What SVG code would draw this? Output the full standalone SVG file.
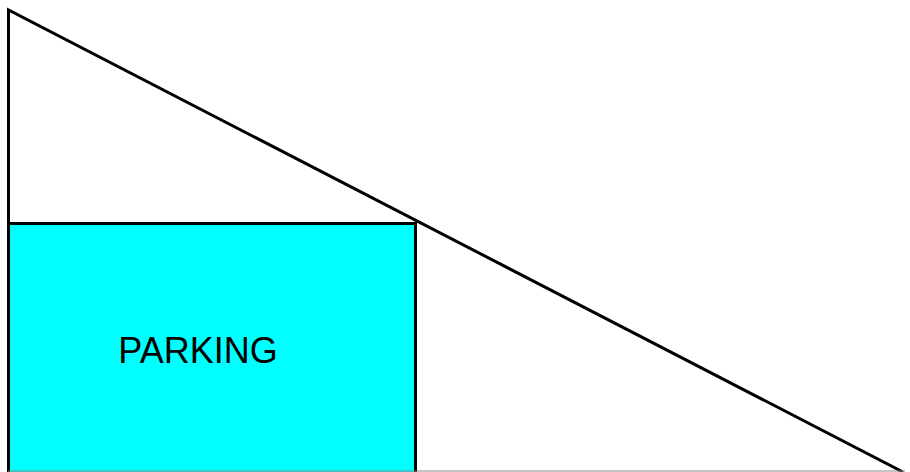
<svg xmlns="http://www.w3.org/2000/svg" width="910" height="472" viewBox="0 0 910 472">
<style>
.edge{stroke:#000;stroke-width:3;fill:none}
.lbl{font-family:"Liberation Sans",Arial,sans-serif;font-size:36px;fill:#000}
</style>
<rect width="910" height="472" fill="#fff"/>
<g id="parking">
<rect x="8.5" y="223.5" width="407" height="250" fill="#00ffff" stroke="#000" stroke-width="3"/>
<text class="lbl" x="198" y="363" text-anchor="middle">PARKING</text>
</g>
<g id="connectors">
<polyline class="edge" points="8.5,473 8.5,10 903,472"/>
<line x1="8" y1="471" x2="905" y2="471" stroke="#888" stroke-width="1"/>
</g>
</svg>
